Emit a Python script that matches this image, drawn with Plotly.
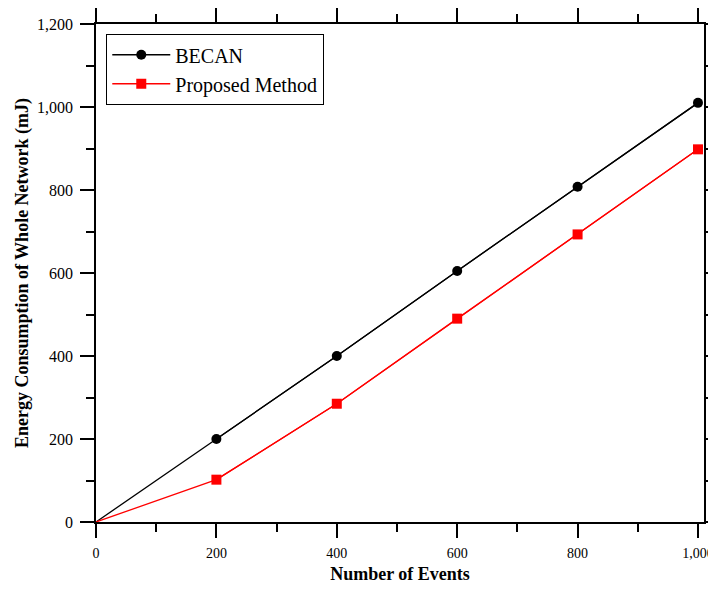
import plotly.graph_objects as go

events = [0, 200, 400, 600, 800, 1000]
becan = [0, 200, 400, 605, 808, 1010]
proposed = [0, 102, 285, 490, 693, 898]

x_ticks = [0, 200, 400, 600, 800, 1000]
x_tick_labels = ["0", "200", "400", "600", "800", "1,000"]
y_ticks = [0, 200, 400, 600, 800, 1000, 1200]
y_tick_labels = ["0", "200", "400", "600", "800", "1,000", "1,200"]

font_family = "Liberation Serif"

fig = go.Figure()
series = [("BECAN", becan, "black", "circle"), ("Proposed Method", proposed, "red", "square")]
for name, vals, color, symbol in series:
    # full polyline from origin (no marker at origin)
    fig.add_trace(go.Scatter(
        x=events, y=vals, mode="lines", showlegend=False, hoverinfo="skip",
        line=dict(color=color, width=1.3),
    ))
    # markers at measured events
    fig.add_trace(go.Scatter(
        x=events[1:], y=vals[1:], name=name, mode="lines+markers",
        line=dict(color=color, width=1.3),
        marker=dict(symbol=symbol, size=10, color=color),
    ))

def axis_style(standoff, fsize):
    return dict(
        showgrid=False, zeroline=False, showline=True, linecolor="black", linewidth=1.5,
        ticks="outside", ticklen=14, tickwidth=1.5, tickcolor="black",
        mirror="allticks", automargin=False, ticklabelstandoff=standoff,
        ticklabeloverflow="allow",
        tickfont=dict(family=font_family, size=fsize, color="black"),
        minor=dict(dtick=100, ticks="outside", ticklen=8, tickwidth=1.5, tickcolor="black"),
    )

fig.update_layout(
    width=708, height=582,
    margin=dict(l=88, r=12, t=16, b=68),
    paper_bgcolor="white", plot_bgcolor="white",
    font=dict(family=font_family, color="black"),
    showlegend=True,
    legend=dict(
        x=0.0164, y=0.98, xanchor="left", yanchor="top",
        bordercolor="black", borderwidth=1.3, bgcolor="white",
        font=dict(family=font_family, size=20, color="black"),
        tracegroupgap=0, itemwidth=58, entrywidth=240,
    ),
)
fig.update_xaxes(
    **axis_style(3, 14), range=[0, 1010],
    tickvals=x_ticks, ticktext=x_tick_labels,
    title=dict(text="<b>Number of Events</b>", standoff=8,
               font=dict(family=font_family, size=18, color="black")),
)
fig.update_yaxes(
    **axis_style(4, 16), range=[0, 1200],
    tickvals=y_ticks, ticktext=y_tick_labels,
    title=dict(text="<b>Energy Consumption of Whole Network (mJ)</b>", standoff=4,
               font=dict(family=font_family, size=18, color="black")),
)

fig.write_html("out.html")
